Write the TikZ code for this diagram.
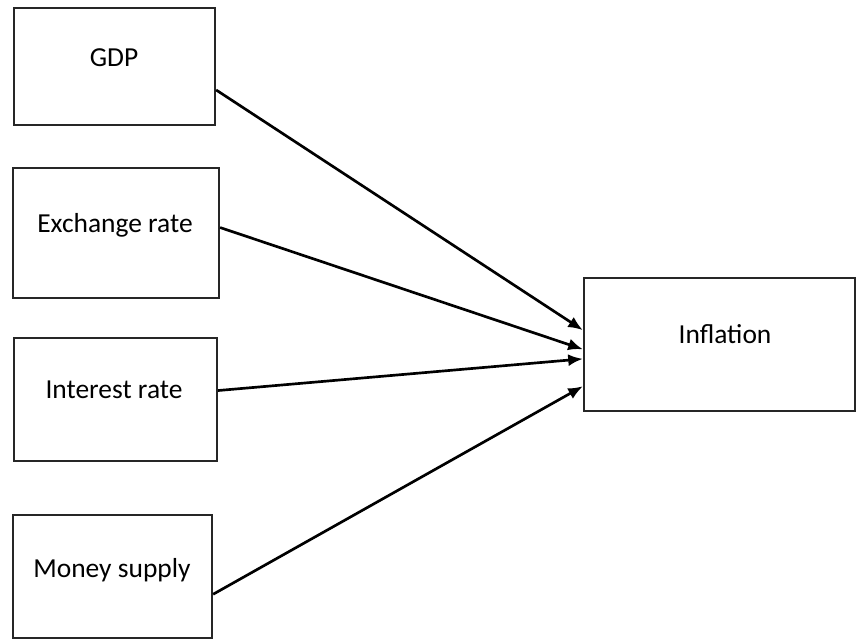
\documentclass[tikz,border=0pt]{standalone}
\usepackage{fontspec}
\setmainfont{Carlito}
\usetikzlibrary{arrows.meta}
\begin{document}
\begin{tikzpicture}[x=0.75pt,y=-0.75pt,
  box/.style={draw=black!85,line width=1.7pt,inner sep=0pt,fill=white},
  lbl/.style={anchor=base,inner sep=0pt,font=\fontsize{20.6pt}{24pt}\selectfont,text=black},
  arr/.style={line width=2pt,-{Latex[length=11pt,width=9pt]}}]
\useasboundingbox (0,0) rectangle (856,639);
\node[box,minimum width=150.75pt,minimum height=87.75pt] (gdp) at (114.5,66.5) {};
\node[box,minimum width=154.5pt,minimum height=97.5pt] (exch) at (116,233) {};
\node[box,minimum width=152.25pt,minimum height=92.25pt] (intr) at (115.5,399.5) {};
\node[box,minimum width=149.25pt,minimum height=92.25pt] (mon) at (112.5,576.5) {};
\node[box,minimum width=203.25pt,minimum height=99.75pt] (infl) at (719.5,344.5) {};
\node[lbl] (tgdp) at (114,66) {GDP};
\node[lbl] (texch) at (115,232) {Exchange rate};
\node[lbl] (tintr) at (114,398) {Interest rate};
\node[lbl] (tmon) at (112,577) {Money supply};
\node[lbl] (tinfl) at (725,343) {Inflation};
\draw[arr] (gdp.-13) -- (infl.174);
\draw[arr] (exch.3.4) -- (infl.182);
\draw[arr] (intr.5.3) -- (infl.186);
\draw[arr] (mon.-10) -- (infl.197);
\end{tikzpicture}
\end{document}
